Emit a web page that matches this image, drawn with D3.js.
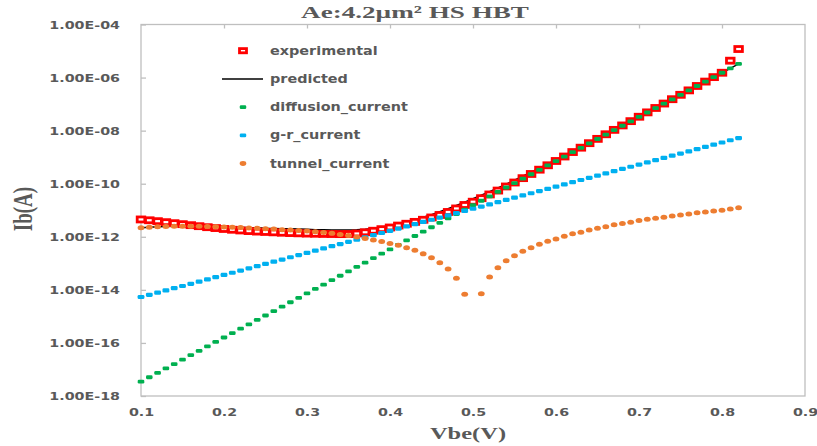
<!DOCTYPE html>
<html>
<head>
<meta charset="utf-8">
<script src="https://cdn.jsdelivr.net/npm/d3@7"></script>
<style>
  body { margin: 0; background: #fff; }
  svg { display: block; }
</style>
</head>
<body>
<svg id="chart" width="817" height="446"></svg>
<script>
// Base-emitter voltage sweep (V)
const vbe = [
  0.10, 0.11, 0.12, 0.13, 0.14, 0.15, 0.16, 0.17, 0.18, 0.19,
  0.20, 0.21, 0.22, 0.23, 0.24, 0.25, 0.26, 0.27, 0.28, 0.29,
  0.30, 0.31, 0.32, 0.33, 0.34, 0.35, 0.36, 0.37, 0.38, 0.39,
  0.40, 0.41, 0.42, 0.43, 0.44, 0.45, 0.46, 0.47, 0.48, 0.49,
  0.50, 0.51, 0.52, 0.53, 0.54, 0.55, 0.56, 0.57, 0.58, 0.59,
  0.60, 0.61, 0.62, 0.63, 0.64, 0.65, 0.66, 0.67, 0.68, 0.69,
  0.70, 0.71, 0.72, 0.73, 0.74, 0.75, 0.76, 0.77, 0.78, 0.79,
  0.80, 0.81, 0.82
];

// Measured base current Ib (A)
const experimental = [
  4.50e-12, 4.19e-12, 3.88e-12, 3.56e-12, 3.26e-12, 2.99e-12, 2.74e-12, 2.51e-12, 2.30e-12, 2.13e-12,
  1.97e-12, 1.84e-12, 1.73e-12, 1.64e-12, 1.57e-12, 1.52e-12, 1.47e-12, 1.42e-12, 1.38e-12, 1.35e-12,
  1.32e-12, 1.30e-12, 1.28e-12, 1.27e-12, 1.26e-12, 1.27e-12, 1.33e-12, 1.48e-12, 1.69e-12, 1.94e-12,
  2.24e-12, 2.65e-12, 3.10e-12, 3.65e-12, 4.38e-12, 5.35e-12, 6.64e-12, 8.61e-12, 1.17e-11, 1.58e-11,
  2.10e-11, 2.85e-11, 3.94e-11, 5.52e-11, 7.87e-11, 1.11e-10, 1.62e-10, 2.33e-10, 3.38e-10, 4.95e-10,
  7.19e-10, 1.06e-9, 1.56e-9, 2.28e-9, 3.37e-9, 4.90e-9, 7.30e-9, 1.07e-8, 1.57e-8, 2.28e-8,
  3.34e-8, 4.88e-8, 7.15e-8, 1.05e-7, 1.53e-7, 2.24e-7, 3.29e-7, 4.82e-7, 7.06e-7, 1.04e-6,
  1.52e-6, 4.33e-6, 1.19e-5
];

// Model total (diffusion + g-r + tunnelling), A
const predicted = [
  2.20e-12, 2.30e-12, 2.41e-12, 2.46e-12, 2.52e-12, 2.52e-12, 2.53e-12, 2.53e-12, 2.47e-12, 2.43e-12,
  2.38e-12, 2.33e-12, 2.29e-12, 2.20e-12, 2.17e-12, 2.10e-12, 2.07e-12, 2.00e-12, 1.99e-12, 1.95e-12,
  1.92e-12, 1.86e-12, 1.83e-12, 1.81e-12, 1.80e-12, 1.82e-12, 1.83e-12, 1.92e-12, 2.07e-12, 2.28e-12,
  2.58e-12, 3.01e-12, 3.59e-12, 4.37e-12, 5.41e-12, 6.84e-12, 8.79e-12, 1.14e-11, 1.51e-11, 2.00e-11,
  2.70e-11, 3.66e-11, 5.02e-11, 6.95e-11, 9.66e-11, 1.35e-10, 1.91e-10, 2.71e-10, 3.87e-10, 5.54e-10,
  7.94e-10, 1.15e-9, 1.66e-9, 2.40e-9, 3.48e-9, 5.05e-9, 7.38e-9, 1.07e-8, 1.57e-8, 2.29e-8,
  3.35e-8, 4.89e-8, 7.18e-8, 1.05e-7, 1.53e-7, 2.24e-7, 3.30e-7, 4.83e-7, 7.07e-7, 1.04e-6,
  1.52e-6, 2.22e-6, 3.28e-6
];

// Ideal diffusion component (A)
const diffusionCurrent = [
  3.47e-18, 5.08e-18, 7.46e-18, 1.09e-17, 1.60e-17, 2.35e-17, 3.45e-17, 5.06e-17, 7.41e-17, 1.09e-16,
  1.60e-16, 2.34e-16, 3.44e-16, 5.04e-16, 7.38e-16, 1.08e-15, 1.59e-15, 2.33e-15, 3.41e-15, 5.01e-15,
  7.35e-15, 1.08e-14, 1.58e-14, 2.32e-14, 3.40e-14, 4.98e-14, 7.31e-14, 1.07e-13, 1.57e-13, 2.31e-13,
  3.38e-13, 4.95e-13, 7.28e-13, 1.07e-12, 1.56e-12, 2.29e-12, 3.37e-12, 4.93e-12, 7.23e-12, 1.06e-11,
  1.56e-11, 2.28e-11, 3.35e-11, 4.91e-11, 7.19e-11, 1.05e-10, 1.55e-10, 2.27e-10, 3.33e-10, 4.89e-10,
  7.16e-10, 1.05e-9, 1.54e-9, 2.26e-9, 3.31e-9, 4.85e-9, 7.13e-9, 1.04e-8, 1.53e-8, 2.25e-8,
  3.30e-8, 4.83e-8, 7.10e-8, 1.04e-7, 1.52e-7, 2.23e-7, 3.28e-7, 4.81e-7, 7.05e-7, 1.04e-6,
  1.52e-6, 2.22e-6, 3.27e-6
];

// Generation-recombination component (A)
const grCurrent = [
  5.37e-15, 6.50e-15, 7.87e-15, 9.55e-15, 1.16e-14, 1.40e-14, 1.69e-14, 2.05e-14, 2.49e-14, 3.01e-14,
  3.65e-14, 4.42e-14, 5.35e-14, 6.49e-14, 7.85e-14, 9.51e-14, 1.15e-13, 1.39e-13, 1.69e-13, 2.05e-13,
  2.48e-13, 3.00e-13, 3.63e-13, 4.41e-13, 5.33e-13, 6.46e-13, 7.82e-13, 9.46e-13, 1.15e-12, 1.39e-12,
  1.68e-12, 2.04e-12, 2.47e-12, 2.99e-12, 3.62e-12, 4.39e-12, 5.31e-12, 6.43e-12, 7.80e-12, 9.44e-12,
  1.14e-11, 1.38e-11, 1.67e-11, 2.03e-11, 2.46e-11, 2.98e-11, 3.61e-11, 4.37e-11, 5.30e-11, 6.41e-11,
  7.76e-11, 9.40e-11, 1.14e-10, 1.38e-10, 1.67e-10, 2.02e-10, 2.45e-10, 2.96e-10, 3.60e-10, 4.36e-10,
  5.27e-10, 6.38e-10, 7.73e-10, 9.38e-10, 1.14e-9, 1.37e-9, 1.66e-9, 2.01e-9, 2.44e-9, 2.96e-9,
  3.58e-9, 4.34e-9, 5.25e-9
];

// Tunnelling component magnitude (A); null where it changes sign
const tunnelCurrent = [
  2.19e-12, 2.29e-12, 2.40e-12, 2.45e-12, 2.51e-12, 2.51e-12, 2.51e-12, 2.51e-12, 2.45e-12, 2.40e-12,
  2.34e-12, 2.29e-12, 2.24e-12, 2.14e-12, 2.09e-12, 2.00e-12, 1.95e-12, 1.86e-12, 1.82e-12, 1.74e-12,
  1.66e-12, 1.55e-12, 1.45e-12, 1.35e-12, 1.23e-12, 1.12e-12, 9.77e-13, 8.71e-13, 7.59e-13, 6.61e-13,
  5.62e-13, 4.79e-13, 3.89e-13, 3.09e-13, 2.29e-13, 1.62e-13, 1.05e-13, 6.17e-14, 2.75e-14, 6.76e-15,
  null,     7.08e-15, 3.02e-14, 6.76e-14, 1.26e-13, 1.91e-13, 2.82e-13, 3.89e-13, 5.25e-13, 6.76e-13,
  8.32e-13, 1.05e-12, 1.29e-12, 1.48e-12, 1.82e-12, 2.09e-12, 2.40e-12, 2.82e-12, 3.16e-12, 3.55e-12,
  4.07e-12, 4.57e-12, 5.01e-12, 5.50e-12, 6.03e-12, 6.61e-12, 7.24e-12, 8.13e-12, 8.51e-12, 9.33e-12,
  1.00e-11, 1.12e-11, 1.23e-11
];

const xTicks = [0.1, 0.2, 0.3, 0.4, 0.5, 0.6, 0.7, 0.8, 0.9];
const yTicks = [1e-4, 1e-6, 1e-8, 1e-10, 1e-12, 1e-14, 1e-16, 1e-18];
const seriesNames = ["experimental", "predicted", "diffusion_current", "g-r_current", "tunnel_current"];
const titleText = "Ae:4.2\u00b5m\u00b2 HS HBT";

const TEXT = "#595959";
const AXIS = "#bfbfbf";
const RED = "#ff0000", GREEN = "#00b050", BLUE = "#00b0f0", ORANGE = "#ed7d31";

const svg = d3.select("#chart");
const plotL = 141, plotR = 805, plotT = 24.5, plotB = 396;

const x = d3.scaleLinear().domain([0.1, 0.9]).range([plotL, plotR]);
const y = d3.scaleLog().domain([1e-18, 1e-4]).range([plotB, plotT]);

// Horizontal stretch of a text element about its own anchor x
function stretch(sel, k) {
  sel.each(function () {
    const t = d3.select(this);
    const x0 = +t.attr("x") || 0;
    t.attr("transform", `translate(${x0 * (1 - k)},0) scale(${k},1)`);
  });
}

const sciFmt = d => {
  const e = Math.round(Math.log10(d));
  return "1.00E" + (e < 0 ? "-" : "+") + String(Math.abs(e)).padStart(2, "0");
};

// Plot frame
svg.append("rect")
  .attr("x", plotL).attr("y", plotT)
  .attr("width", plotR - plotL).attr("height", plotB - plotT)
  .attr("fill", "none").attr("stroke", AXIS).attr("stroke-width", 1.3);

// Left axis: inward ticks, scientific labels
const yAxis = svg.append("g")
  .attr("transform", `translate(${plotL},0)`)
  .call(d3.axisLeft(y).tickValues(yTicks).tickFormat(sciFmt).tickSize(-5).tickPadding(21));
yAxis.select(".domain").remove();
yAxis.selectAll("line").attr("stroke", AXIS).attr("stroke-width", 1.3);
yAxis.selectAll("text")
  .attr("fill", TEXT).attr("font-family", "DejaVu Sans").attr("font-weight", "bold")
  .attr("font-size", 10.5).attr("dy", "0.36em");
stretch(yAxis.selectAll("text"), 1.36);

// Bottom axis labels
const xAxis = svg.append("g")
  .attr("transform", `translate(0,${plotB})`)
  .call(d3.axisBottom(x).tickValues(xTicks).tickFormat(d3.format(".1f")).tickSize(0).tickPadding(16));
xAxis.select(".domain").remove();
xAxis.selectAll("text")
  .attr("fill", TEXT).attr("font-family", "DejaVu Sans").attr("font-weight", "bold")
  .attr("font-size", 10.5).attr("dy", "0.36em");
stretch(xAxis.selectAll("text"), 1.36);

// Tick marks along the top edge
const topAxis = svg.append("g")
  .attr("transform", `translate(0,${plotT})`)
  .call(d3.axisTop(x).tickValues(xTicks.slice(1, -1)).tickSize(-4).tickFormat(""));
topAxis.select(".domain").remove();
topAxis.selectAll("line").attr("stroke", AXIS).attr("stroke-width", 1.3);

// Titles
const title = svg.append("text")
  .attr("x", 415).attr("y", 18)
  .attr("text-anchor", "middle")
  .attr("font-family", "Liberation Serif").attr("font-weight", "bold")
  .attr("font-size", 17.5).attr("fill", TEXT)
  .text(titleText);
stretch(title, 1.55);

const xTitle = svg.append("text")
  .attr("x", 468).attr("y", 439)
  .attr("text-anchor", "middle")
  .attr("font-family", "Liberation Serif").attr("font-weight", "bold")
  .attr("font-size", 17.5).attr("fill", TEXT)
  .text("Vbe(V)");
stretch(xTitle, 1.4);

svg.append("g")
  .attr("transform", `translate(23,209) scale(1.4,1) rotate(-90)`)
  .append("text")
  .attr("text-anchor", "middle").attr("dy", "0.35em")
  .attr("font-family", "Liberation Serif").attr("font-weight", "bold")
  .attr("font-size", 19).attr("fill", TEXT)
  .text("Ib(A)");

// Series
const idx = d3.range(vbe.length);
const plot = svg.append("g");

// predicted: black line, underneath the markers
const line = d3.line()
  .defined(i => predicted[i] != null)
  .x(i => x(vbe[i])).y(i => y(predicted[i]));
plot.append("path")
  .attr("d", line(idx))
  .attr("fill", "none").attr("stroke", "#000").attr("stroke-width", 1.5);

// experimental: hollow red squares
plot.append("g").selectAll("rect")
  .data(idx.filter(i => experimental[i] != null))
  .join("rect")
  .attr("x", i => x(vbe[i]) - 3.8).attr("y", i => y(experimental[i]) - 2.5)
  .attr("width", 7.6).attr("height", 5)
  .attr("fill", "#fff").attr("stroke", RED).attr("stroke-width", 2.8);

function dashMarks(values, color, w, h) {
  plot.append("g").selectAll("rect")
    .data(idx.filter(i => values[i] != null))
    .join("rect")
    .attr("x", i => x(vbe[i]) - w / 2).attr("y", i => y(values[i]) - h / 2)
    .attr("width", w).attr("height", h).attr("rx", 1.3)
    .attr("fill", color);
}
dashMarks(diffusionCurrent, GREEN, 6.6, 3.8);
dashMarks(grCurrent, BLUE, 6.8, 4.2);

plot.append("g").selectAll("ellipse")
  .data(idx.filter(i => tunnelCurrent[i] != null))
  .join("ellipse")
  .attr("cx", i => x(vbe[i])).attr("cy", i => y(tunnelCurrent[i]))
  .attr("rx", 3.4).attr("ry", 2.5)
  .attr("fill", ORANGE);

// Legend
const legend = svg.append("g");
const lx = 243, ly0 = 50.7, lstep = 28.2;
seriesNames.forEach((name, k) => {
  const cy = ly0 + k * lstep;
  if (k === 0) {
    legend.append("rect").attr("x", lx - 3.5).attr("y", cy - 2.1)
      .attr("width", 7).attr("height", 4.2)
      .attr("fill", "#fff").attr("stroke", RED).attr("stroke-width", 2.8);
  } else if (k === 1) {
    legend.append("line").attr("x1", 222).attr("x2", 263).attr("y1", cy).attr("y2", cy)
      .attr("stroke", "#000").attr("stroke-width", 1.5);
  } else if (k === 4) {
    legend.append("ellipse").attr("cx", lx).attr("cy", cy).attr("rx", 3.3).attr("ry", 2.4)
      .attr("fill", ORANGE);
  } else {
    legend.append("rect").attr("x", lx - 3.25).attr("y", cy - 1.9)
      .attr("width", 6.5).attr("height", 3.8).attr("rx", 1.3)
      .attr("fill", k === 2 ? GREEN : BLUE);
  }
  const t = legend.append("text")
    .attr("x", 270).attr("y", cy).attr("dy", "0.35em")
    .attr("font-family", "DejaVu Sans").attr("font-weight", "bold")
    .attr("font-size", 12).attr("fill", TEXT)
    .text(name);
  stretch(t, 1.2);
});
</script>
</body>
</html>
